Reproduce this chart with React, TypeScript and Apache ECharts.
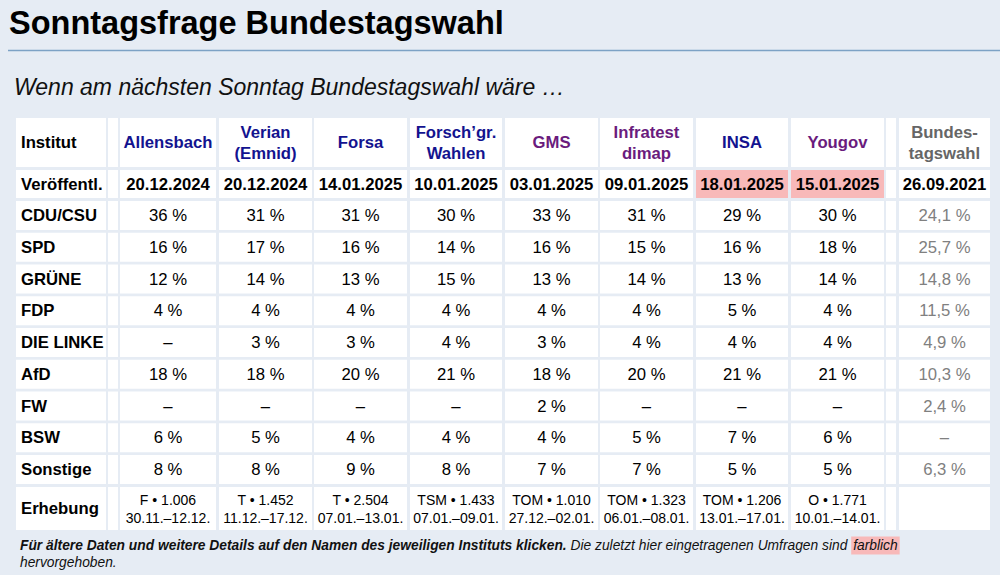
import React, { useEffect, useRef } from "react";
import * as echarts from "echarts";

const institutes = ["Allensbach", "Verian\n(Emnid)", "Forsa", "Forsch’gr.\nWahlen", "GMS", "Infratest\ndimap", "INSA", "Yougov"];
const published = ["20.12.2024", "20.12.2024", "14.01.2025", "10.01.2025", "03.01.2025", "09.01.2025", "18.01.2025", "15.01.2025"];
const latestIdx = [6, 7];
const parties = ["CDU/CSU", "SPD", "GRÜNE", "FDP", "DIE LINKE", "AfD", "FW", "BSW", "Sonstige"];
const cduCsu = [36, 31, 31, 30, 33, 31, 29, 30];
const spd = [16, 17, 16, 14, 16, 15, 16, 18];
const gruene = [12, 14, 13, 15, 13, 14, 13, 14];
const fdp = [4, 4, 4, 4, 4, 4, 5, 4];
const linke = [null, 3, 3, 4, 3, 4, 4, 4];
const afd = [18, 18, 20, 21, 18, 20, 21, 21];
const fw = [null, null, null, null, 2, null, null, null];
const bsw = [6, 5, 4, 4, 4, 5, 7, 6];
const sonstige = [8, 8, 9, 8, 7, 7, 5, 5];
const partyValues = [cduCsu, spd, gruene, fdp, linke, afd, fw, bsw, sonstige];
const methods = ["F", "T", "T", "TSM", "TOM", "TOM", "TOM", "O"];
const sampleSizes = ["1.006", "1.452", "2.504", "1.433", "1.010", "1.323", "1.206", "1.771"];
const periods = ["30.11.–12.12.", "11.12.–17.12.", "07.01.–13.01.", "07.01.–09.01.", "27.12.–02.01.", "06.01.–08.01.", "13.01.–17.01.", "10.01.–14.01."];
const electionLabel = "Bundes-\ntagswahl";
const electionDate = "26.09.2021";
const electionResults = [24.1, 25.7, 14.8, 11.5, 4.9, 10.3, 2.4, null, 6.3];

const FONT = '"Liberation Sans", Arial, Helvetica, sans-serif';
const BG = "#e6ecf4";
const LINK = "#13138f";
const VISITED = "#6a1b7d";
const headerColors = [LINK, LINK, LINK, LINK, VISITED, VISITED, LINK, VISITED];
const PINK = "#f8b9b9";
const CELL_FONT = 16.7;

const labelCol: [number, number] = [16, 106];
const gapCol1: [number, number] = [108, 118];
const dataCols: [number, number][] = [[120, 216], [219, 312], [314, 407], [410, 502], [505, 598], [600, 693], [696, 788], [791, 884]];
const gapCol2: [number, number] = [886, 896];
const electionCol: [number, number] = [899, 990];

const headerRow: [number, number] = [118, 167];
const pubRow: [number, number] = [170, 198];
const partyRow = (i: number): [number, number] => [201 + i * 31.75, 201 + i * 31.75 + 29];
const surveyRow: [number, number] = [487, 530];

function fmtPoll(v: number | null) {
  return v == null ? "–" : `${v} %`;
}
function fmtElection(v: number | null) {
  return v == null ? "–" : `${v.toFixed(1).replace(".", ",")} %`;
}

function txt(x: number, y: number, text: string, opts: any = {}) {
  const align = opts.align || "center";
  return {
    type: "text",
    x,
    y,
    silent: true,
    style: {
      text,
      x: 0,
      y: 0,
      fill: opts.fill || "#000",
      font: `${opts.style || "normal"} ${opts.weight || "normal"} ${opts.size || CELL_FONT}px ${FONT}`,
      align,
      verticalAlign: "middle",
      textAlign: align,
      textVerticalAlign: "middle",
      lineHeight: opts.lineHeight || 20,
    },
  };
}

function cell(col: [number, number], row: [number, number], fill = "#fff") {
  return {
    type: "rect",
    silent: true,
    shape: { x: col[0], y: row[0], width: col[1] - col[0], height: row[1] - row[0] },
    style: { fill },
  };
}

function buildGraphics() {
  const els: any[] = [];
  els.push(txt(9, 23, "Sonntagsfrage Bundestagswahl", { align: "left", weight: "bold", size: 32.5 }));
  els.push({ type: "line", silent: true, shape: { x1: 8, y1: 50.5, x2: 1000, y2: 50.5 }, style: { stroke: "#7da2c5", lineWidth: 1.5 } });
  els.push(txt(14, 87, "Wenn am nächsten Sonntag Bundestagswahl wäre …", { align: "left", style: "italic", size: 23, fill: "#111" }));

  const rows: [number, number][] = [headerRow, pubRow, ...parties.map((_, i) => partyRow(i)), surveyRow];
  const allCols = [labelCol, gapCol1, ...dataCols, gapCol2, electionCol];
  rows.forEach((r, ri) => {
    allCols.forEach((c, ci) => {
      const isData = ci >= 2 && ci < 2 + dataCols.length;
      const di = ci - 2;
      const highlight = ri === 1 && isData && latestIdx.includes(di);
      els.push(cell(c, r, highlight ? PINK : "#fff"));
    });
  });

  const mid = (a: [number, number]) => (a[0] + a[1]) / 2;
  const lx = labelCol[0] + 5;

  els.push(txt(lx, mid(headerRow), "Institut", { align: "left", weight: "bold" }));
  institutes.forEach((name, i) => {
    els.push(txt(mid(dataCols[i]), mid(headerRow), name, { weight: "bold", fill: headerColors[i], lineHeight: 21 }));
  });
  els.push(txt(mid(electionCol), mid(headerRow), electionLabel, { weight: "bold", fill: "#666", lineHeight: 21 }));

  els.push(txt(lx, mid(pubRow), "Veröffentl.", { align: "left", weight: "bold" }));
  published.forEach((d, i) => {
    els.push(txt(mid(dataCols[i]), mid(pubRow), d, { weight: "bold" }));
  });
  els.push(txt(mid(electionCol), mid(pubRow), electionDate, { weight: "bold" }));

  parties.forEach((p, pi) => {
    const r = partyRow(pi);
    els.push(txt(lx, mid(r), p, { align: "left", weight: "bold" }));
    partyValues[pi].forEach((v, i) => {
      els.push(txt(mid(dataCols[i]), mid(r), fmtPoll(v)));
    });
    els.push(txt(mid(electionCol), mid(r), fmtElection(electionResults[pi]), { fill: "#808080" }));
  });

  els.push(txt(lx, mid(surveyRow), "Erhebung", { align: "left", weight: "bold" }));
  methods.forEach((m, i) => {
    els.push(txt(mid(dataCols[i]), mid(surveyRow), `${m} • ${sampleSizes[i]}\n${periods[i]}`, { size: 14, lineHeight: 18 }));
  });

  els.push({
    type: "text",
    x: 20,
    y: 554,
    silent: true,
    style: {
      text: "{b|Für ältere Daten und weitere Details auf den Namen des jeweiligen Instituts klicken.}{i| Die zuletzt hier eingetragenen Umfragen sind }{h|farblich}\n{i|hervorgehoben.}",
      fill: "#111",
      font: `italic normal 13.8px ${FONT}`,
      align: "left",
      verticalAlign: "middle",
      textAlign: "left",
      textVerticalAlign: "middle",
      lineHeight: 17,
      rich: {
        b: { fontStyle: "italic", fontWeight: "bold", fontSize: 13.8, fontFamily: FONT, fill: "#111", lineHeight: 17 },
        i: { fontStyle: "italic", fontSize: 13.8, fontFamily: FONT, fill: "#111", lineHeight: 17 },
        h: { fontStyle: "italic", fontSize: 13.8, fontFamily: FONT, fill: "#111", backgroundColor: PINK, padding: [2, 2, 2, 2], lineHeight: 17 },
      },
    },
  });
  return els;
}

export default function App() {
  const ref = useRef<HTMLDivElement>(null);
  useEffect(() => {
    if (!ref.current) return;
    const chart = echarts.init(ref.current, undefined, { renderer: "svg" });
    chart.setOption({
      animation: false,
      backgroundColor: BG,
      graphic: { elements: buildGraphics() },
    });
    return () => chart.dispose();
  }, []);
  return <div ref={ref} style={{ position: "fixed", left: 0, top: 0, width: 1000, height: 575 }} />;
}
